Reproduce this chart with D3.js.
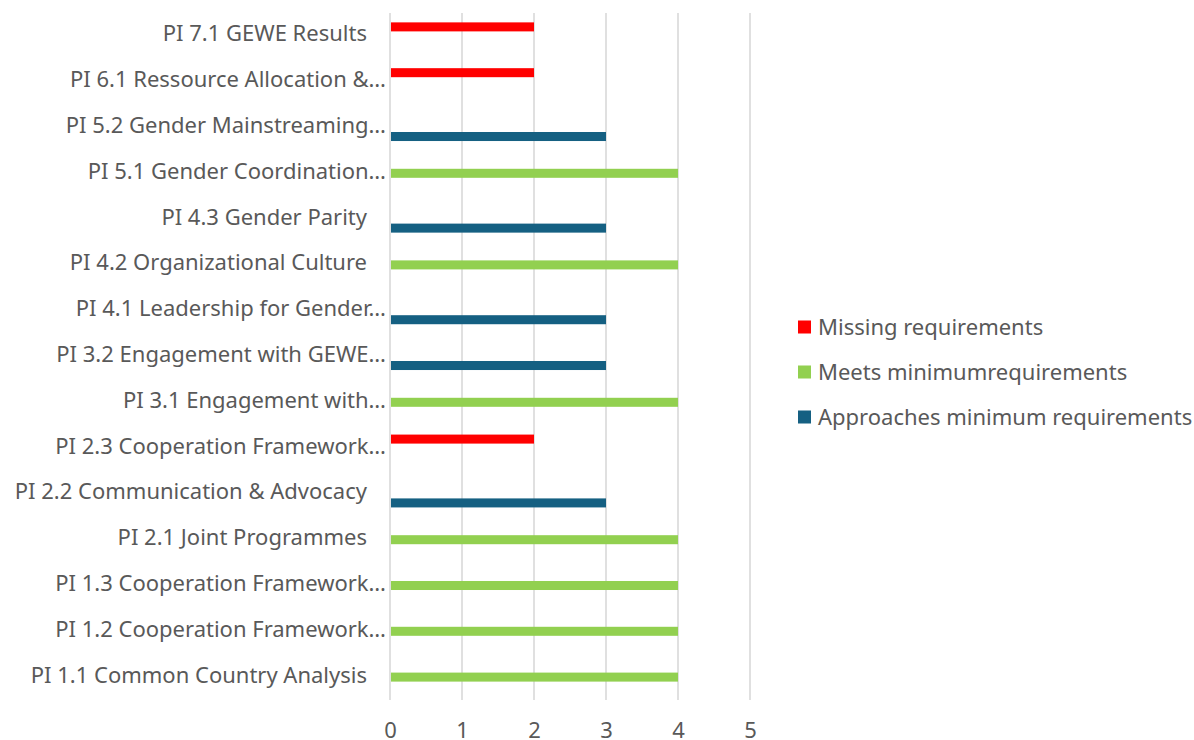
<!DOCTYPE html>
<html>
<head>
<meta charset="utf-8">
<script src="https://cdn.jsdelivr.net/npm/d3@7"></script>
<style>
  html, body { margin: 0; padding: 0; background: #ffffff; }
  svg text { font-family: "Noto Sans", "Open Sans", sans-serif; fill: #595959; }
</style>
</head>
<body>
<svg id="chart" width="1194" height="740"></svg>
<script>
// Performance indicators, listed top to bottom
const categories = [
  "PI 7.1 GEWE Results",
  "PI 6.1 Ressource Allocation &…",
  "PI 5.2 Gender Mainstreaming…",
  "PI 5.1 Gender Coordination…",
  "PI 4.3 Gender Parity",
  "PI 4.2 Organizational Culture",
  "PI 4.1 Leadership for Gender…",
  "PI 3.2 Engagement with GEWE…",
  "PI 3.1 Engagement with…",
  "PI 2.3 Cooperation Framework…",
  "PI 2.2 Communication & Advocacy",
  "PI 2.1 Joint Programmes",
  "PI 1.3 Cooperation Framework…",
  "PI 1.2 Cooperation Framework…",
  "PI 1.1 Common Country Analysis"
];

const seriesNames = ["Missing requirements", "Meets minimumrequirements", "Approaches minimum requirements"];
const seriesColors = ["#FF0000", "#92D050", "#156082"];

// Scores per indicator (same order as categories)
const missing    = [2, 2, 0, 0, 0, 0, 0, 0, 0, 2, 0, 0, 0, 0, 0];
const meets      = [0, 0, 0, 4, 0, 4, 0, 0, 4, 0, 0, 4, 4, 4, 4];
const approaches = [0, 0, 3, 0, 3, 0, 3, 3, 0, 0, 3, 0, 0, 0, 0];

const xTicks = [0, 1, 2, 3, 4, 5];

const seriesValues = [missing, meets, approaches];

const svg = d3.select("#chart");
const plot = { left: 390, right: 750, top: 13, bottom: 700 };
const fontSize = 22;

const x = d3.scaleLinear().domain([0, 5]).range([plot.left, plot.right]);
const y = d3.scaleBand().domain(categories).range([plot.top, plot.bottom]).paddingInner(0).paddingOuter(0);
const ySub = d3.scaleBand().domain(seriesNames).range([0, y.bandwidth()]).paddingInner(0).paddingOuter(1.04);

// vertical gridlines
svg.append("g")
  .selectAll("line")
  .data(xTicks)
  .join("line")
  .attr("x1", d => x(d)).attr("x2", d => x(d))
  .attr("y1", plot.top).attr("y2", plot.bottom)
  .attr("stroke", "#d9d9d9")
  .attr("stroke-width", 1.6);

// x tick labels
const xAxis = d3.axisBottom(x).tickValues(xTicks).tickFormat(d3.format("d")).tickSize(0).tickPadding(0);
const xg = svg.append("g").attr("transform", `translate(0, ${plot.bottom + 22})`).call(xAxis);
xg.select(".domain").remove();
xg.selectAll("text")
  .attr("font-size", fontSize)
  .attr("fill", "#595959")
  .attr("font-family", "Noto Sans, sans-serif");

// bars
const barRows = [];
seriesNames.forEach((s, si) => {
  categories.forEach((c, ci) => {
    barRows.push({ series: s, color: seriesColors[si], cat: c, value: seriesValues[si][ci] });
  });
});

svg.append("g")
  .selectAll("rect")
  .data(barRows.filter(d => d.value > 0))
  .join("rect")
  .attr("x", x(0) + 1)
  .attr("y", d => y(d.cat) + ySub(d.series))
  .attr("width", d => x(d.value) - x(0) - 1)
  .attr("height", ySub.bandwidth())
  .attr("fill", d => d.color);

// category labels; full-length labels sit a little further left than truncated ones
const yAxis = d3.axisLeft(y).tickSize(0).tickPadding(0);
const yg = svg.append("g").attr("transform", `translate(${plot.left - 4}, 0)`).call(yAxis);
yg.select(".domain").remove();
yg.selectAll("text")
  .attr("font-size", fontSize)
  .attr("fill", "#595959")
  .attr("font-family", "Noto Sans, sans-serif")
  .attr("dx", d => d.endsWith("…") ? 0 : -19)
  .attr("dy", "0.25em");

// legend
const legend = svg.append("g").attr("transform", "translate(798, 327)");
const items = legend.selectAll("g")
  .data(seriesNames)
  .join("g")
  .attr("transform", (d, i) => `translate(0, ${i * 45})`);
items.append("rect")
  .attr("x", 0).attr("y", -6.5)
  .attr("width", 13).attr("height", 13)
  .attr("fill", (d, i) => seriesColors[i]);
items.append("text")
  .attr("x", 20)
  .attr("dy", "0.35em")
  .attr("font-size", fontSize)
  .text(d => d);
</script>
</body>
</html>
